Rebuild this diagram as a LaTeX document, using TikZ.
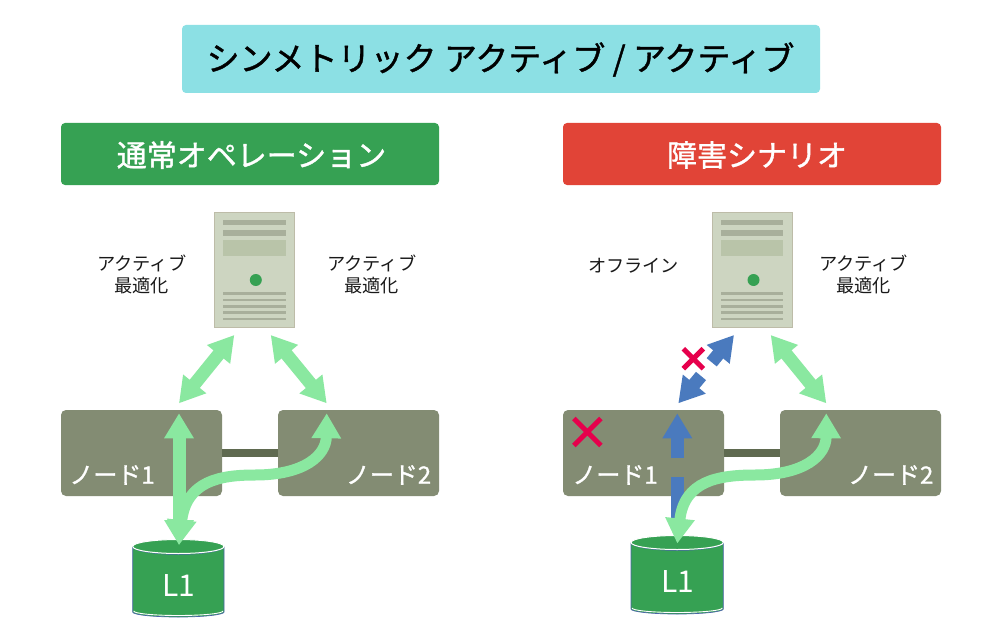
\documentclass[tikz,border=0pt]{standalone}
\usepackage{fontspec}
\setmainfont{Noto Sans CJK JP}
\newfontfamily\heavy[FakeBold=1.2]{Noto Sans CJK JP}
\usetikzlibrary{arrows.meta,calc}
\definecolor{cTitle}{HTML}{8CE0E4}
\definecolor{cGreen}{HTML}{36A153}
\definecolor{cRed}{HTML}{E14437}
\definecolor{cNode}{HTML}{838C73}
\definecolor{cLink}{HTML}{5F6A50}
\definecolor{cArrow}{HTML}{8AE8A0}
\definecolor{cBlue}{HTML}{4A7ABE}
\definecolor{cCross}{HTML}{E6004C}
\definecolor{cSrv}{HTML}{CDD5C1}
\definecolor{cSrvB}{HTML}{BDBCA8}
\definecolor{cBar}{HTML}{A8AF9B}
\definecolor{cPanel}{HTML}{B9C4A9}
\definecolor{cDiskB}{HTML}{4A64A8}
\tikzset{
  x=1pt,y=-1pt,
  band/.style={rounded corners=4pt,inner sep=0pt,minimum height=62pt,minimum width=378pt},
  bandtxt/.style={text=white,inner sep=0pt,font=\fontsize{30}{36}\selectfont\heavy},
  nodebox/.style={rounded corners=5pt,fill=cNode,inner sep=0pt,minimum width=161pt,minimum height=86pt},
  nodetxt/.style={text=white,inner sep=0pt,font=\fontsize{24}{28}\selectfont\heavy},
  lab/.style={inner sep=0pt,align=center,text=black!90,font=\fontsize{18.2}{22}\selectfont},
  disktxt/.style={text=white,inner sep=0pt,font=\fontsize{30}{36}\selectfont},
  link/.style={draw=cLink,line width=8pt},
  dbl/.style={draw=#1,line width=13pt,{Triangle[length=25pt,width=28pt]}-{Triangle[length=25pt,width=28pt]}},
  sgl/.style={draw=#1,line width=13pt,-{Triangle[length=25pt,width=28pt]}},
  curvy/.style={draw=cArrow,line width=11pt,{Triangle[length=25pt,width=28pt]}-{Triangle[length=25pt,width=28pt]}},
  crosshalo/.style={draw=white,line width=#1},
  crossline/.style={draw=cCross,line width=#1},
}
\newcommand{\serverbox}[2]{%
  \begin{scope}[shift={(#1,0)}]
    \node[fill=cSrv,draw=cSrvB,line width=1.4pt,inner sep=0pt,minimum width=80pt,minimum height=115.5pt] (#2) at (254.5,270) {};
    \fill[cBar] (223.3,220) rectangle (285.7,225.3);
    \fill[cBar] (223.3,230.3) rectangle (285.7,235.7);
    \fill[cPanel] (223.3,240.3) rectangle (285.7,255.7);
    \foreach \yy in {292.3,298.6,305,311.3,317.6}{\fill[cBar] (223.3,\yy) rectangle (285.7,\yy+2.7);}
    \fill[cGreen] (255.8,280) circle (6);
  \end{scope}}
\newcommand{\diskshape}[5]{% name, left, right, top centre y, bottom y
  \path[fill=cGreen] (#2,#4) -- (#2,#5-5) arc[start angle=180,end angle=0,x radius={(#3-#2)/2},y radius=5] -- (#3,#4) arc[start angle=0,end angle=-180,x radius={(#3-#2)/2},y radius=7] -- cycle;
  \draw[cDiskB,line width=.7pt] (#2,#4) -- (#2,#5-5) arc[start angle=180,end angle=0,x radius={(#3-#2)/2},y radius=5] -- (#3,#4);
  \draw[white,line width=.9pt] (#2+1,#5-6) arc[start angle=180,end angle=0,x radius={(#3-#2)/2-1},y radius=4.5];
  \draw[cDiskB,line width=.5pt] (#2,#4) arc[start angle=180,end angle=0,x radius={(#3-#2)/2},y radius=8];
  \draw[white,line width=1pt] ({(#2+#3)/2},#4) ellipse[x radius={(#3-#2)/2},y radius=7];
  \coordinate (#1) at ({(#2+#3)/2},#4);}
\begin{document}
\begin{tikzpicture}
\useasboundingbox (0,0) rectangle (1000,631);
\fill[white] (0,0) rectangle (1000,631);
% titles
\node[rounded corners=4pt,fill=cTitle,inner sep=0pt,minimum width=638pt,minimum height=68pt] (title) at (501,59) {};
\node[inner sep=0pt,font=\fontsize{33}{38}\selectfont\heavy] (titletxt) at (500.5,59.5) {シンメトリック アクティブ / アクティブ};
\node[band,fill=cGreen] (hleft) at (250,154) {};
\node[band,fill=cRed] (hright) at (752,154) {};
\node[bandtxt] (hlefttxt) at (251.5,155) {通常オペレーション};
\node[bandtxt] (hrighttxt) at (757,155) {障害シナリオ};
% servers
\serverbox{0}{srvL}
\serverbox{497.7}{srvR}
% labels
\node[lab] (l1) at (141.7,274) {アクティブ\\最適化};
\node[lab] (l2) at (371.7,274) {アクティブ\\最適化};
\node[lab] (l3) at (633.5,266) {オフライン};
\node[lab] (l4) at (863.5,274) {アクティブ\\最適化};
% cluster nodes
\node[nodebox] (n1L) at (141.5,453) {};
\node[nodebox] (n2L) at (358.5,453) {};
\node[nodebox] (n1R) at (643.5,453) {};
\node[nodebox] (n2R) at (860.5,453) {};
\draw[link] (n1L) -- (n2L);
\draw[link] (n1R) -- (n2R);
\node[nodetxt] (t1L) at (112,475) {ノード1};
\node[nodetxt] (t2L) at (388.5,475) {ノード2};
\node[nodetxt] (t1R) at (615,475) {ノード1};
\node[nodetxt] (t2R) at (890.7,475) {ノード2};
% disks
\diskshape{dL}{132.7}{224}{546.5}{617}
\diskshape{dR}{631}{723.3}{542.5}{614}
\node[disktxt] (tdL) at (178.5,585) {L1};
\node[disktxt] (tdR) at (677.5,581) {L1};
% arrow ends
\coordinate (aLsrvA) at (234.3,335);
\coordinate (aLn1top) at (179,403.3);
\coordinate (aLsrvB) at (270.7,335);
\coordinate (aLn2top) at (326.7,403.3);
\coordinate (aLn1) at (179,413.3);
\coordinate (aLd) at (179,545);
\coordinate (aLn2) at (326.7,413.3);
\coordinate (aRsrvB) at (770.7,335);
\coordinate (aRn2top) at (826.3,403.3);
\coordinate (aRn2) at (826.3,413.3);
\coordinate (aRd) at (677.3,543.5);
\coordinate (aRsrvA) at (734,335);
\coordinate (aRsA) at (711.7,362.3);
\coordinate (aRn1top) at (678.3,403.3);
\coordinate (aRsB) at (701,376);
\coordinate (aRn1) at (677.3,413.3);
\coordinate (aRbA) at (677.3,458);
\coordinate (aRbB) at (677.3,477);
\coordinate (aRbC) at (677.3,522);
% arrows left
\draw[dbl=cArrow] (aLsrvA) -- (aLn1top);
\draw[dbl=cArrow] (aLsrvB) -- (aLn2top);
\draw[dbl=cArrow] (aLn1) -- (aLd);
\draw[curvy] (aLn2) .. controls (326,455) and (305,475) .. (255,475) .. controls (220,475) and (186,481) .. (aLd);
% arrows right
\draw[dbl=cArrow] (aRsrvB) -- (aRn2top);
\draw[sgl=cBlue] (aRsA) -- (aRsrvA);
\draw[sgl=cBlue] (aRsB) -- (aRn1top);
\draw[sgl=cBlue] (aRbA) -- (aRn1);
\draw[draw=cBlue,line width=13pt] (aRbB) -- (aRbC);
\draw[curvy] (aRn2) .. controls (826,455) and (805,475) .. (755,475) .. controls (718,475) and (684,481) .. (aRd);
% crosses
\coordinate (xsC) at (693.3,358.7);
\coordinate (xbC) at (587.3,432);
\draw[crosshalo=8pt] ($(xsC)+(-9.5,-9.5)$) -- ($(xsC)+(9.5,9.5)$) ($(xsC)+(-9.5,9.5)$) -- ($(xsC)+(9.5,-9.5)$);
\draw[crossline=5pt] ($(xsC)+(-10,-10)$) -- ($(xsC)+(10,10)$) ($(xsC)+(-10,10)$) -- ($(xsC)+(10,-10)$);
\draw[crossline=5pt] ($(xbC)+(-13.5,-13.5)$) -- ($(xbC)+(13.5,13.5)$) ($(xbC)+(-13.5,13.5)$) -- ($(xbC)+(13.5,-13.5)$);
\end{tikzpicture}
\end{document}
